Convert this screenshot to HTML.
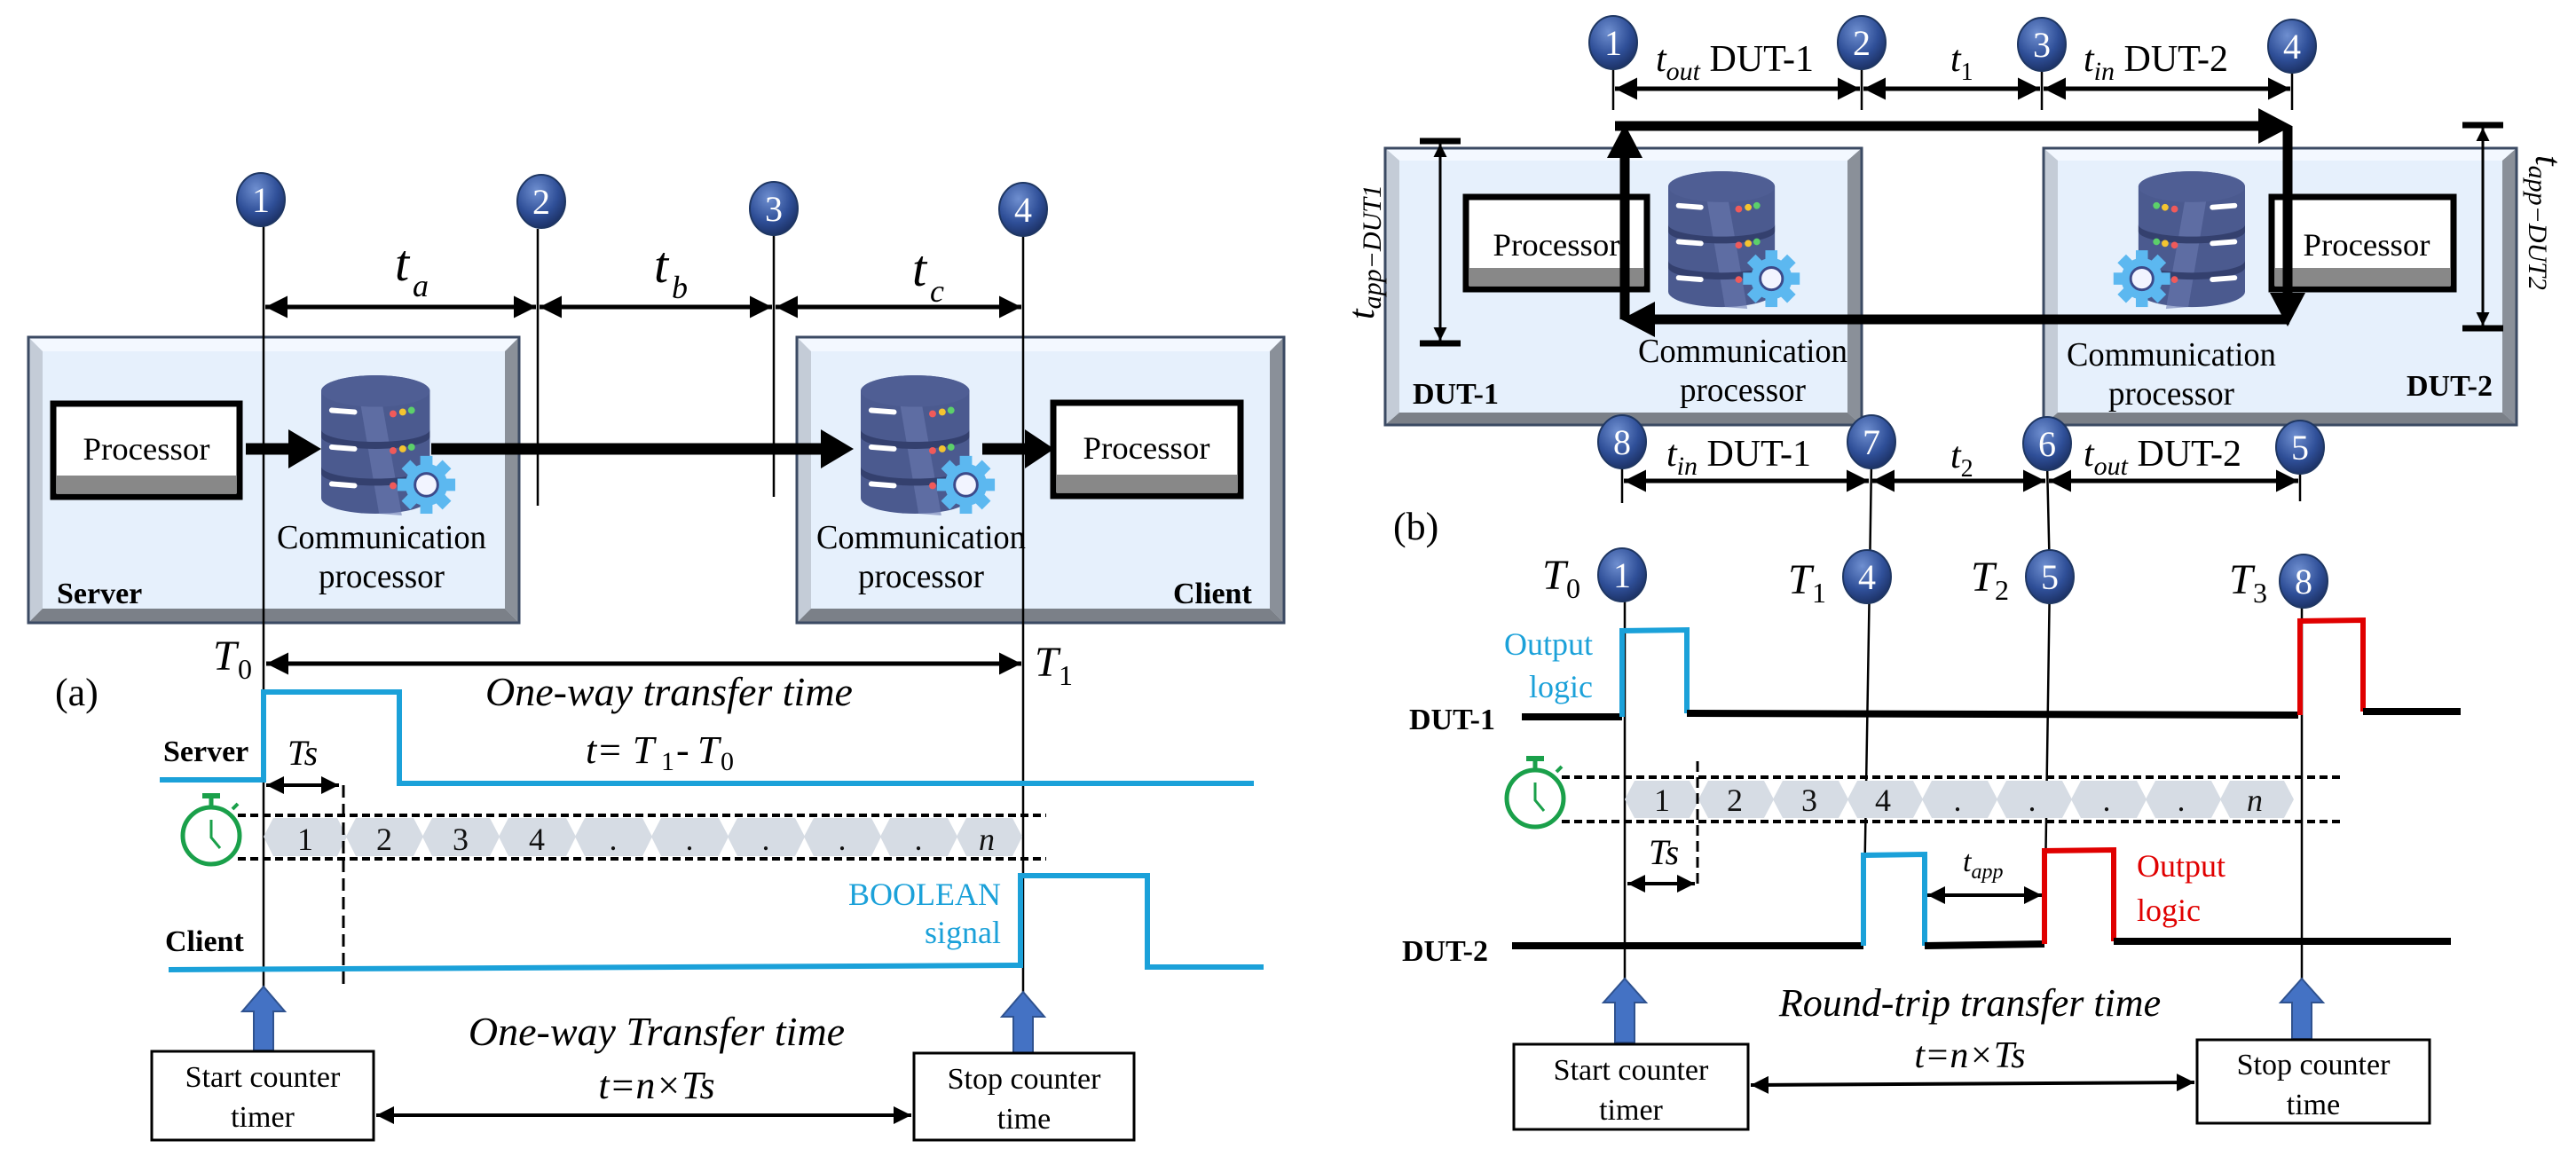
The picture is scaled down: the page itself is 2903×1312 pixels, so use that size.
<!DOCTYPE html>
<html><head><meta charset="utf-8"><style>
html,body{margin:0;padding:0;background:#fff}
svg{display:block}
text{font-family:"Liberation Serif",serif}
</style></head><body>
<svg width="2903" height="1312" viewBox="0 0 2903 1312" xmlns="http://www.w3.org/2000/svg" font-family="Liberation Serif, serif">
<defs>
<radialGradient id="cg" cx="40%" cy="30%" r="75%">
<stop offset="0" stop-color="#6f8fd0"/><stop offset="0.6" stop-color="#2f4f98"/><stop offset="1" stop-color="#1a2e60"/>
</radialGradient>
<marker id="ah" viewBox="0 0 10 10" refX="10" refY="5" markerWidth="5" markerHeight="5" orient="auto-start-reverse" markerUnits="strokeWidth">
<path d="M0,0 L10,5 L0,10 Z" fill="#000"/></marker>
<symbol id="db" viewBox="0 0 160 160">
<path d="M0,18 A62,18 0 0 1 124,18 L124,140 A62,18 0 0 1 0,140 Z" fill="#4b5a8f"/>
<path d="M40,4 L64,0 L92,160 L66,158 Z" fill="#6b7ab0" opacity="0.6"/>
<ellipse cx="62" cy="18" rx="62" ry="18" fill="#4f5e94"/>
<path d="M0,62 A62,14 0 0 0 124,62 L124,70 A62,14 0 0 1 0,70 Z" fill="#34406e"/>
<path d="M0,104 A62,14 0 0 0 124,104 L124,112 A62,14 0 0 1 0,112 Z" fill="#34406e"/>
<g stroke="#fff" stroke-width="6" stroke-linecap="round"><line x1="12" y1="40" x2="38" y2="42"/><line x1="12" y1="82" x2="38" y2="84"/><line x1="12" y1="124" x2="38" y2="126"/></g>
<circle cx="82" cy="44" r="4" fill="#f05a5a"/><circle cx="93" cy="42" r="4" fill="#f4c430"/><circle cx="103" cy="40" r="4" fill="#5cd06a"/>
<circle cx="82" cy="86" r="4" fill="#f05a5a"/><circle cx="93" cy="84" r="4" fill="#f4c430"/><circle cx="103" cy="82" r="4" fill="#5cd06a"/>
<circle cx="82" cy="126" r="4" fill="#f05a5a"/>
<g transform="translate(120,125)" fill="#5cb8f0">
<circle r="24"/><rect x="-7" y="-33" width="14" height="66"/><rect x="-33" y="-7" width="66" height="14"/>
<rect x="-7" y="-33" width="14" height="66" transform="rotate(45)"/><rect x="-7" y="-33" width="14" height="66" transform="rotate(-45)"/>
<circle r="13" fill="#f2f4ff" stroke="#3c4a8a" stroke-width="3"/></g>
</symbol>
</defs>

<!-- ============ PANEL A ============ -->
<g>
<rect x="32" y="380" width="553" height="322" fill="#e6f0fc" stroke="#3b4a63" stroke-width="3"/>
<polygon points="32,380 585,380 569,396 48,396" fill="#f3f8ff"/>
<polygon points="32,380 48,396 48,686 32,702" fill="#c4ccd7"/>
<polygon points="585,380 585,702 569,686 569,396" fill="#8a9099"/>
<polygon points="32,702 585,702 569,686 48,686" fill="#7b8088"/>
<rect x="32" y="380" width="553" height="322" fill="none" stroke="#3b4a63" stroke-width="3"/>
<rect x="898" y="380" width="549" height="322" fill="#e6f0fc"/>
<polygon points="898,380 1447,380 1431,396 914,396" fill="#f3f8ff"/>
<polygon points="898,380 914,396 914,686 898,702" fill="#c4ccd7"/>
<polygon points="1447,380 1447,702 1431,686 1431,396" fill="#8a9099"/>
<polygon points="898,702 1447,702 1431,686 914,686" fill="#7b8088"/>
<rect x="898" y="380" width="549" height="322" fill="none" stroke="#3b4a63" stroke-width="3"/>
</g>
<g>
<rect x="60" y="455" width="210" height="105" fill="#fff" stroke="#000" stroke-width="7"/>
<rect x="64" y="536" width="202" height="20" fill="#888"/>
<text x="165" y="518" font-size="36" text-anchor="middle" textLength="143" lengthAdjust="spacingAndGlyphs">Processor</text>
<rect x="1187" y="454" width="211" height="105" fill="#fff" stroke="#000" stroke-width="7"/>
<rect x="1191" y="535" width="203" height="20" fill="#888"/>
<text x="1292" y="517" font-size="36" text-anchor="middle" textLength="143" lengthAdjust="spacingAndGlyphs">Processor</text>
</g>
<use href="#db" x="362" y="423" width="158" height="158"/>
<use href="#db" x="970" y="423" width="158" height="158"/>
<g stroke="#000" stroke-width="13">
<line x1="277" y1="506" x2="330" y2="506"/><line x1="486" y1="506" x2="930" y2="506"/><line x1="1107" y1="506" x2="1160" y2="506"/>
</g>
<polygon points="325,484 362,506 325,528" fill="#000"/>
<polygon points="925,484 962,506 925,528" fill="#000"/>
<polygon points="1155,484 1188,506 1155,528" fill="#000"/>
<g font-size="38" text-anchor="middle">
<text x="430" y="618" textLength="236" lengthAdjust="spacingAndGlyphs">Communication</text>
<text x="430" y="662" textLength="142" lengthAdjust="spacingAndGlyphs">processor</text>
<text x="1038" y="618" textLength="236" lengthAdjust="spacingAndGlyphs">Communication</text>
<text x="1038" y="662" textLength="142" lengthAdjust="spacingAndGlyphs">processor</text>
</g>
<text x="64" y="680" font-size="34" font-weight="bold">Server</text>
<text x="1322" y="680" font-size="34" font-weight="bold">Client</text>
<g stroke="#000" stroke-width="2.5">
<line x1="297" y1="255" x2="297" y2="1112"/>
<line x1="606" y1="258" x2="606" y2="570"/>
<line x1="872" y1="264" x2="872" y2="560"/>
<line x1="1153" y1="266" x2="1153" y2="1118"/>
</g>
<g stroke="#000" stroke-width="5" marker-start="url(#ah)" marker-end="url(#ah)">
<line x1="299" y1="346" x2="604" y2="346"/><line x1="608" y1="346" x2="870" y2="346"/><line x1="874" y1="346" x2="1151" y2="346"/>
<line x1="300" y1="748" x2="1151" y2="748"/>
</g>
<g font-style="italic" font-size="58">
<text x="445" y="316">t</text><text x="465" y="334" font-size="36">a</text>
<text x="737" y="318">t</text><text x="757" y="336" font-size="36">b</text>
<text x="1028" y="322">t</text><text x="1048" y="340" font-size="36">c</text>
</g>
<g font-size="40" fill="#fff" text-anchor="middle">
<g transform="translate(294,225)"><ellipse rx="27" ry="30" fill="url(#cg)" stroke="#1f3763" stroke-width="2"/><text y="14">1</text></g>
<g transform="translate(610,227)"><ellipse rx="27" ry="30" fill="url(#cg)" stroke="#1f3763" stroke-width="2"/><text y="14">2</text></g>
<g transform="translate(872,235)"><ellipse rx="27" ry="30" fill="url(#cg)" stroke="#1f3763" stroke-width="2"/><text y="14">3</text></g>
<g transform="translate(1153,236)"><ellipse rx="27" ry="30" fill="url(#cg)" stroke="#1f3763" stroke-width="2"/><text y="14">4</text></g>
</g>
<g font-style="italic" font-size="48">
<text x="240" y="755">T</text><text x="268" y="765" font-size="32" font-style="normal">0</text>
<text x="1166" y="762">T</text><text x="1193" y="772" font-size="32" font-style="normal">1</text>
</g>
<text x="62" y="795" font-size="44">(a)</text>
<text x="754" y="795" font-size="46" font-style="italic" text-anchor="middle">One-way transfer time</text>
<text x="660" y="860" font-size="44" font-style="italic">t= T</text><text x="745" y="868" font-size="30">1</text><text x="762" y="860" font-size="44">- </text><text x="786" y="860" font-size="44" font-style="italic">T</text><text x="812" y="868" font-size="30">0</text>
<polyline points="180,879 297,879 297,780 450,780 450,883 1413,883" fill="none" stroke="#1ba1d9" stroke-width="6"/>
<text x="184" y="858" font-size="34" font-weight="bold">Server</text>
<text x="324" y="862" font-size="40" font-style="italic">Ts</text>
<line x1="300" y1="885" x2="382" y2="885" stroke="#000" stroke-width="4" marker-start="url(#ah)" marker-end="url(#ah)"/>
<g transform="translate(238,942)" stroke="#1aa04a" fill="none"><circle r="32" stroke-width="5"/><line x1="0" y1="-32" x2="0" y2="-44" stroke-width="5"/><line x1="-10" y1="-45" x2="10" y2="-45" stroke-width="6"/><polyline points="0,-18 0,2 10,14" stroke-width="3"/><line x1="24" y1="-30" x2="30" y2="-36" stroke-width="4"/></g>
<g fill="#d6dce4">
<polygon points="297,943 308,922 380,922 391,943 380,965 308,965"/>
<polygon points="390,943 401,922 466,922 477,943 466,965 401,965"/>
<polygon points="476,943 487,922 552,922 563,943 552,965 487,965"/>
<polygon points="562,943 573,922 638,922 649,943 638,965 573,965"/>
<polygon points="648,943 659,922 724,922 735,943 724,965 659,965"/>
<polygon points="734,943 745,922 810,922 821,943 810,965 745,965"/>
<polygon points="820,943 831,922 896,922 907,943 896,965 831,965"/>
<polygon points="906,943 917,922 982,922 993,943 982,965 917,965"/>
<polygon points="992,943 1003,922 1068,922 1079,943 1068,965 1003,965"/>
<polygon points="1078,943 1089,922 1141,922 1152,943 1141,965 1089,965"/>
</g>
<g stroke="#000" stroke-width="4" stroke-dasharray="9,5"><line x1="268" y1="919" x2="1179" y2="919"/><line x1="268" y1="968" x2="1179" y2="968"/></g>
<line x1="387" y1="885" x2="387" y2="1115" stroke="#000" stroke-width="3" stroke-dasharray="14,7"/>
<g font-family="Liberation Sans, sans-serif" font-size="36" text-anchor="middle" fill="#111">
<text x="344" y="958" font-family="Liberation Sans, sans-serif">1</text><text x="433" y="958" font-family="Liberation Sans, sans-serif">2</text><text x="519" y="958" font-family="Liberation Sans, sans-serif">3</text><text x="605" y="958" font-family="Liberation Sans, sans-serif">4</text>
<text x="691" y="958">.</text><text x="777" y="958">.</text><text x="863" y="958">.</text><text x="949" y="958">.</text><text x="1035" y="958">.</text>
<text x="1112" y="958" font-style="italic" font-family="Liberation Sans, sans-serif">n</text></g>
<polyline points="190,1093 1150,1088 1150,987 1293,987 1293,1090 1424,1090" fill="none" stroke="#1ba1d9" stroke-width="6"/>
<text x="1128" y="1020" font-size="36" fill="#1ba1d9" text-anchor="end">BOOLEAN</text>
<text x="1128" y="1063" font-size="36" fill="#1ba1d9" text-anchor="end">signal</text>
<text x="186" y="1072" font-size="34" font-weight="bold">Client</text>
<g fill="#4472c4" stroke="#2f528f" stroke-width="2">
<polygon points="286,1184 308,1184 308,1140 321,1140 297,1112 273,1140 286,1140"/>
<polygon points="1142,1188 1164,1188 1164,1146 1177,1146 1153,1118 1129,1146 1142,1146"/>
</g>
<rect x="171" y="1185" width="250" height="100" fill="#fff" stroke="#000" stroke-width="3"/>
<rect x="1030" y="1187" width="248" height="98" fill="#fff" stroke="#000" stroke-width="3"/>
<g font-size="34" text-anchor="middle">
<text x="296" y="1225">Start counter</text><text x="296" y="1270">timer</text>
<text x="1154" y="1227">Stop counter</text><text x="1154" y="1272">time</text></g>
<text x="740" y="1178" font-size="46" font-style="italic" text-anchor="middle">One-way Transfer time</text>
<text x="740" y="1238" font-size="44" font-style="italic" text-anchor="middle">t=n×Ts</text>
<line x1="424" y1="1257" x2="1027" y2="1257" stroke="#000" stroke-width="4" marker-start="url(#ah)" marker-end="url(#ah)"/>

<!-- ============ PANEL B ============ -->
<rect x="1561" y="167" width="537" height="312" fill="#e6f0fc"/>
<polygon points="1561,167 2098,167 2082,181 1577,181" fill="#f3f8ff"/>
<polygon points="1561,167 1577,181 1577,465 1561,479" fill="#c4ccd7"/>
<polygon points="2098,167 2098,479 2082,465 2082,181" fill="#8a9099"/>
<polygon points="1561,479 2098,479 2082,465 1577,465" fill="#7b8088"/>
<rect x="1561" y="167" width="537" height="312" fill="none" stroke="#3b4a63" stroke-width="3"/>
<rect x="2303" y="167" width="533" height="312" fill="#e6f0fc"/>
<polygon points="2303,167 2836,167 2820,181 2319,181" fill="#f3f8ff"/>
<polygon points="2303,167 2319,181 2319,465 2303,479" fill="#c4ccd7"/>
<polygon points="2836,167 2836,479 2820,465 2820,181" fill="#8a9099"/>
<polygon points="2303,479 2836,479 2820,465 2319,465" fill="#7b8088"/>
<rect x="2303" y="167" width="533" height="312" fill="none" stroke="#3b4a63" stroke-width="3"/>
<rect x="1652" y="222" width="204" height="104" fill="#fff" stroke="#000" stroke-width="7"/>
<rect x="1656" y="302" width="196" height="20" fill="#888"/>
<text x="1754" y="288" font-size="36" text-anchor="middle" textLength="143" lengthAdjust="spacingAndGlyphs">Processor</text>
<rect x="2560" y="222" width="205" height="104" fill="#fff" stroke="#000" stroke-width="7"/>
<rect x="2564" y="302" width="197" height="20" fill="#888"/>
<text x="2667" y="288" font-size="36" text-anchor="middle" textLength="143" lengthAdjust="spacingAndGlyphs">Processor</text>
<use href="#db" x="1880" y="193" width="155" height="155"/>
<g transform="translate(2530,193) scale(-1,1)"><use href="#db" x="0" y="0" width="155" height="155"/></g>
<g font-size="38" text-anchor="middle">
<text x="1964" y="408" textLength="236" lengthAdjust="spacingAndGlyphs">Communication</text><text x="1964" y="452" textLength="142" lengthAdjust="spacingAndGlyphs">processor</text>
<text x="2447" y="412" textLength="236" lengthAdjust="spacingAndGlyphs">Communication</text><text x="2447" y="456" textLength="142" lengthAdjust="spacingAndGlyphs">processor</text></g>
<text x="1592" y="455" font-size="34" font-weight="bold">DUT-1</text>
<text x="2712" y="446" font-size="34" font-weight="bold">DUT-2</text>
<g stroke="#000" stroke-width="11" fill="none">
<line x1="1820" y1="142" x2="2550" y2="142"/>
<line x1="2578" y1="142" x2="2578" y2="335"/>
<line x1="2580" y1="360" x2="1860" y2="360"/>
<line x1="1831" y1="360" x2="1831" y2="170"/>
</g>
<polygon points="2545,122 2583,142 2545,162" fill="#000"/>
<polygon points="2558,330 2578,368 2598,330" fill="#000"/>
<polygon points="1865,340 1827,360 1865,380" fill="#000"/>
<polygon points="1811,178 1831,140 1851,178" fill="#000"/>
<g stroke="#000" stroke-width="3"><line x1="1623" y1="162" x2="1623" y2="384" marker-start="url(#ah)" marker-end="url(#ah)"/><line x1="2798" y1="144" x2="2798" y2="367" marker-start="url(#ah)" marker-end="url(#ah)"/></g>
<g stroke="#000" stroke-width="7"><line x1="1600" y1="159" x2="1646" y2="159"/><line x1="1600" y1="387" x2="1646" y2="387"/><line x1="2775" y1="141" x2="2821" y2="141"/><line x1="2775" y1="370" x2="2821" y2="370"/></g>
<text transform="translate(1548,360) rotate(-90)" font-size="42" font-style="italic">t<tspan font-size="30" dy="8">app−DUT1</tspan></text>
<text transform="translate(2858,175) rotate(90)" font-size="42" font-style="italic">t<tspan font-size="30" dy="8">app−DUT2</tspan></text>
<g stroke="#000" stroke-width="2.5">
<line x1="1818" y1="74" x2="1818" y2="124"/><line x1="2098" y1="74" x2="2098" y2="124"/><line x1="2301" y1="76" x2="2301" y2="124"/><line x1="2583" y1="78" x2="2583" y2="124"/>
<line x1="1828" y1="520" x2="1828" y2="567"/><line x1="2592" y1="526" x2="2592" y2="565"/>
<polyline points="2109,520 2107,650 2100,1066" fill="none"/>
<polyline points="2307,522 2310,650 2304,1061" fill="none"/>
<line x1="1831" y1="668" x2="1831" y2="1103"/>
<line x1="2594" y1="672" x2="2594" y2="1103"/>
</g>
<g stroke="#000" stroke-width="5" marker-start="url(#ah)" marker-end="url(#ah)">
<line x1="1820" y1="100" x2="2096" y2="100"/><line x1="2100" y1="100" x2="2299" y2="100"/><line x1="2303" y1="100" x2="2581" y2="100"/>
<line x1="1830" y1="542" x2="2106" y2="542"/><line x1="2110" y1="542" x2="2305" y2="542"/><line x1="2309" y1="542" x2="2590" y2="542"/>
</g>
<g font-size="42">
<text x="1866" y="80"><tspan font-style="italic">t</tspan><tspan font-style="italic" font-size="30" dy="10">out</tspan><tspan dy="-10"> DUT-1</tspan></text>
<text x="2198" y="80"><tspan font-style="italic">t</tspan><tspan font-size="28" dy="10">1</tspan></text>
<text x="2348" y="80"><tspan font-style="italic">t</tspan><tspan font-style="italic" font-size="30" dy="10">in</tspan><tspan dy="-10"> DUT-2</tspan></text>
<text x="1878" y="525"><tspan font-style="italic">t</tspan><tspan font-style="italic" font-size="30" dy="10">in</tspan><tspan dy="-10"> DUT-1</tspan></text>
<text x="2198" y="527"><tspan font-style="italic">t</tspan><tspan font-size="28" dy="10">2</tspan></text>
<text x="2348" y="525"><tspan font-style="italic">t</tspan><tspan font-style="italic" font-size="30" dy="10">out</tspan><tspan dy="-10"> DUT-2</tspan></text>
</g>
<text x="1570" y="608" font-size="44">(b)</text>
<g font-size="40" fill="#fff" text-anchor="middle">
<g transform="translate(1818,48)"><ellipse rx="27" ry="30" fill="url(#cg)" stroke="#1f3763" stroke-width="2"/><text y="14">1</text></g>
<g transform="translate(2098,48)"><ellipse rx="27" ry="30" fill="url(#cg)" stroke="#1f3763" stroke-width="2"/><text y="14">2</text></g>
<g transform="translate(2301,50)"><ellipse rx="27" ry="30" fill="url(#cg)" stroke="#1f3763" stroke-width="2"/><text y="14">3</text></g>
<g transform="translate(2583,52)"><ellipse rx="27" ry="30" fill="url(#cg)" stroke="#1f3763" stroke-width="2"/><text y="14">4</text></g>
<g transform="translate(1828,498)"><ellipse rx="27" ry="30" fill="url(#cg)" stroke="#1f3763" stroke-width="2"/><text y="14">8</text></g>
<g transform="translate(2109,498)"><ellipse rx="27" ry="30" fill="url(#cg)" stroke="#1f3763" stroke-width="2"/><text y="14">7</text></g>
<g transform="translate(2307,500)"><ellipse rx="27" ry="30" fill="url(#cg)" stroke="#1f3763" stroke-width="2"/><text y="14">6</text></g>
<g transform="translate(2592,504)"><ellipse rx="27" ry="30" fill="url(#cg)" stroke="#1f3763" stroke-width="2"/><text y="14">5</text></g>
<g transform="translate(1828,648)"><ellipse rx="27" ry="30" fill="url(#cg)" stroke="#1f3763" stroke-width="2"/><text y="14">1</text></g>
<g transform="translate(2104,650)"><ellipse rx="27" ry="30" fill="url(#cg)" stroke="#1f3763" stroke-width="2"/><text y="14">4</text></g>
<g transform="translate(2310,650)"><ellipse rx="27" ry="30" fill="url(#cg)" stroke="#1f3763" stroke-width="2"/><text y="14">5</text></g>
<g transform="translate(2596,655)"><ellipse rx="27" ry="30" fill="url(#cg)" stroke="#1f3763" stroke-width="2"/><text y="14">8</text></g>
</g>
<g font-size="48">
<text x="1738" y="664" font-style="italic">T</text><text x="1765" y="674" font-size="32">0</text>
<text x="2015" y="669" font-style="italic">T</text><text x="2042" y="679" font-size="32">1</text>
<text x="2221" y="666" font-style="italic">T</text><text x="2248" y="676" font-size="32">2</text>
<text x="2512" y="669" font-style="italic">T</text><text x="2539" y="679" font-size="32">3</text>
</g>
<polyline points="1715,808 1828,808" fill="none" stroke="#000" stroke-width="8"/>
<polyline points="1828,808 1828,711 1901,710 1901,804" fill="none" stroke="#1ba1d9" stroke-width="6"/>
<polyline points="1901,804 2590,806" fill="none" stroke="#000" stroke-width="8"/>
<polyline points="2592,806 2592,700 2663,699 2663,802" fill="none" stroke="#e00000" stroke-width="6"/>
<polyline points="2663,802 2773,802" fill="none" stroke="#000" stroke-width="8"/>
<text x="1795" y="738" font-size="36" fill="#1ba1d9" text-anchor="end">Output</text>
<text x="1795" y="786" font-size="36" fill="#1ba1d9" text-anchor="end">logic</text>
<text x="1588" y="822" font-size="34" font-weight="bold">DUT-1</text>
<g transform="translate(1730,900)" stroke="#1aa04a" fill="none"><circle r="32" stroke-width="5"/><line x1="0" y1="-32" x2="0" y2="-44" stroke-width="5"/><line x1="-10" y1="-45" x2="10" y2="-45" stroke-width="6"/><polyline points="0,-18 0,2 10,14" stroke-width="3"/><line x1="24" y1="-30" x2="30" y2="-36" stroke-width="4"/></g>
<g fill="#d6dce4">
<polygon points="1831,901 1842,880 1904,880 1915,901 1904,922 1842,922"/>
<polygon points="1914,901 1925,880 1988,880 1999,901 1988,922 1925,922"/>
<polygon points="1998,901 2009,880 2072,880 2083,901 2072,922 2009,922"/>
<polygon points="2082,901 2093,880 2156,880 2167,901 2156,922 2093,922"/>
<polygon points="2166,901 2177,880 2240,880 2251,901 2240,922 2177,922"/>
<polygon points="2250,901 2261,880 2324,880 2335,901 2324,922 2261,922"/>
<polygon points="2334,901 2345,880 2408,880 2419,901 2408,922 2345,922"/>
<polygon points="2418,901 2429,880 2492,880 2503,901 2492,922 2429,922"/>
<polygon points="2502,901 2513,880 2574,880 2585,901 2574,922 2513,922"/>
</g>
<g stroke="#000" stroke-width="4" stroke-dasharray="9,5"><line x1="1760" y1="876" x2="2641" y2="876"/><line x1="1760" y1="926" x2="2641" y2="926"/></g>
<line x1="1913" y1="858" x2="1913" y2="996" stroke="#000" stroke-width="3" stroke-dasharray="12,6"/>
<g font-size="36" text-anchor="middle" fill="#111">
<text x="1873" y="914" font-family="Liberation Sans, sans-serif">1</text><text x="1955" y="914" font-family="Liberation Sans, sans-serif">2</text><text x="2039" y="914" font-family="Liberation Sans, sans-serif">3</text><text x="2122" y="914" font-family="Liberation Sans, sans-serif">4</text>
<text x="2206" y="914">.</text><text x="2290" y="914">.</text><text x="2374" y="914">.</text><text x="2458" y="914">.</text>
<text x="2541" y="914" font-style="italic" font-family="Liberation Sans, sans-serif">n</text></g>
<text x="1858" y="974" font-size="40" font-style="italic">Ts</text>
<line x1="1834" y1="996" x2="1910" y2="996" stroke="#000" stroke-width="4" marker-start="url(#ah)" marker-end="url(#ah)"/>
<polyline points="1704,1066 2100,1066" fill="none" stroke="#000" stroke-width="8"/>
<polyline points="2100,1066 2100,964 2169,963 2169,1066" fill="none" stroke="#1ba1d9" stroke-width="6"/>
<polyline points="2169,1066 2304,1064" fill="none" stroke="#000" stroke-width="8"/>
<polyline points="2304,1064 2304,959 2382,958 2382,1061" fill="none" stroke="#e00000" stroke-width="6"/>
<polyline points="2382,1061 2762,1061" fill="none" stroke="#000" stroke-width="8"/>
<text x="1580" y="1083" font-size="34" font-weight="bold">DUT-2</text>
<text x="2212" y="982" font-size="34" font-style="italic">t<tspan font-size="24" dy="8">app</tspan></text>
<line x1="2172" y1="1009" x2="2301" y2="1009" stroke="#000" stroke-width="4" marker-start="url(#ah)" marker-end="url(#ah)"/>
<text x="2408" y="988" font-size="36" fill="#e00000">Output</text>
<text x="2408" y="1038" font-size="36" fill="#e00000">logic</text>
<g fill="#4472c4" stroke="#2f528f" stroke-width="2">
<polygon points="1820,1175 1842,1175 1842,1130 1855,1130 1831,1103 1807,1130 1820,1130"/>
<polygon points="2583,1171 2605,1171 2605,1130 2618,1130 2594,1103 2570,1130 2583,1130"/>
</g>
<rect x="1706" y="1177" width="264" height="96" fill="#fff" stroke="#000" stroke-width="3"/>
<rect x="2476" y="1172" width="262" height="94" fill="#fff" stroke="#000" stroke-width="3"/>
<g font-size="34" text-anchor="middle">
<text x="1838" y="1217">Start counter</text><text x="1838" y="1262">timer</text>
<text x="2607" y="1211">Stop counter</text><text x="2607" y="1256">time</text></g>
<text x="2220" y="1145" font-size="44" font-style="italic" text-anchor="middle">Round-trip transfer time</text>
<text x="2220" y="1203" font-size="42" font-style="italic" text-anchor="middle">t=n×Ts</text>
<line x1="1973" y1="1223" x2="2473" y2="1220" stroke="#000" stroke-width="4" marker-start="url(#ah)" marker-end="url(#ah)"/>
</svg>
</body></html>
